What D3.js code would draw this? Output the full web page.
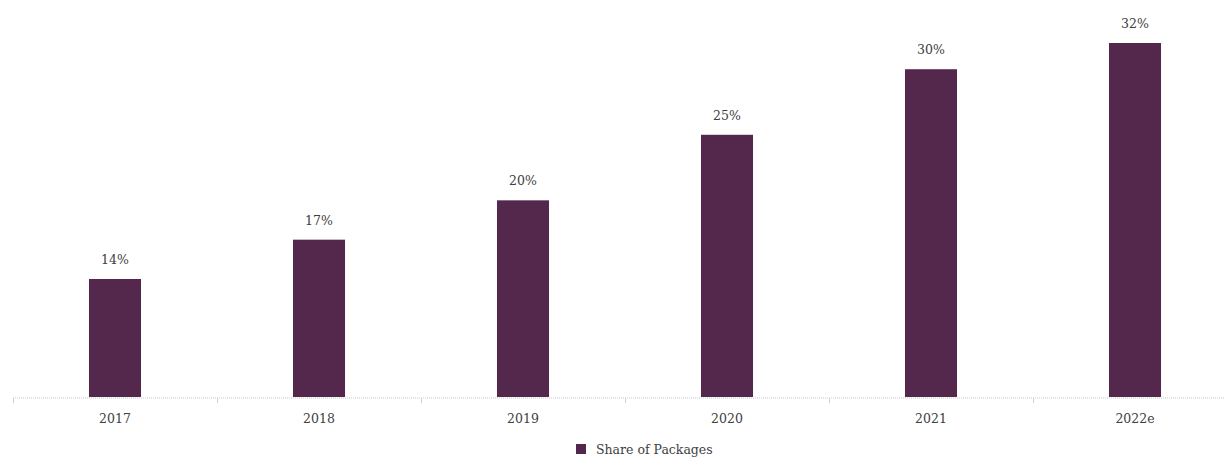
<!DOCTYPE html>
<html>
<head>
<meta charset="utf-8">
<script src="https://cdn.jsdelivr.net/npm/d3@7"></script>
<style>
body { margin: 0; background: #fff; }
text { font-family: "DejaVu Serif", "Liberation Serif", serif; }
</style>
</head>
<body>
<svg width="1224" height="457"></svg>
<script>
var years = ["2017", "2018", "2019", "2020", "2021", "2022e"];
var share = [14, 17, 20, 25, 30, 32];
var seriesName = "Share of Packages";

var svg = d3.select("svg");
var barColour = "#53284c";

var x = d3.scaleBand()
    .domain(years)
    .range([13, 1237])
    .padding(0);

var y = d3.scaleLinear()
    .domain([5, 32])
    .range([397, 43]);

var barWidth = x.bandwidth() * 0.255;

var g = svg.append("g");

g.selectAll("rect")
    .data(years)
    .enter()
    .append("rect")
    .attr("x", function (d) { return x(d) + (x.bandwidth() - barWidth) / 2; })
    .attr("y", function (d, i) { return y(share[i]); })
    .attr("width", barWidth)
    .attr("height", function (d, i) { return y(5) - y(share[i]); })
    .attr("fill", barColour);

g.selectAll(".label")
    .data(years)
    .enter()
    .append("text")
    .attr("class", "label")
    .attr("x", function (d) { return x(d) + x.bandwidth() / 2; })
    .attr("y", function (d, i) { return y(share[i]) - 15; })
    .attr("text-anchor", "middle")
    .attr("font-size", 12.5)
    .attr("fill", "#404040")
    .text(function (d, i) { return share[i] + "%"; });

// axis
var axis = svg.append("g").attr("transform", "translate(0,398)");
axis.append("line")
    .attr("x1", 13).attr("x2", 1224)
    .attr("stroke", "#c8c8c8")
    .attr("stroke-dasharray", "1,1");
axis.selectAll(".tick")
    .data(years.concat(["end"]))
    .enter()
    .append("line")
    .attr("x1", function (d, i) { return i < years.length ? x(d) + 0.5 : 1237; })
    .attr("x2", function (d, i) { return i < years.length ? x(d) + 0.5 : 1237; })
    .attr("y1", 0).attr("y2", 5)
    .attr("stroke", "#d0d0d0");
axis.selectAll(".ticklabel")
    .data(years)
    .enter()
    .append("text")
    .attr("x", function (d) { return x(d) + x.bandwidth() / 2; })
    .attr("y", 25)
    .attr("text-anchor", "middle")
    .attr("font-size", 12.5)
    .attr("fill", "#404040")
    .text(function (d) { return d; });

// legend
var legend = svg.append("g").attr("transform", "translate(576,444)");
legend.append("rect")
    .attr("width", 10).attr("height", 10)
    .attr("fill", barColour);
legend.append("text")
    .attr("x", 20).attr("y", 9.5)
    .attr("font-size", 12.5)
    .attr("fill", "#404040")
    .text(seriesName);
</script>
</body>
</html>
